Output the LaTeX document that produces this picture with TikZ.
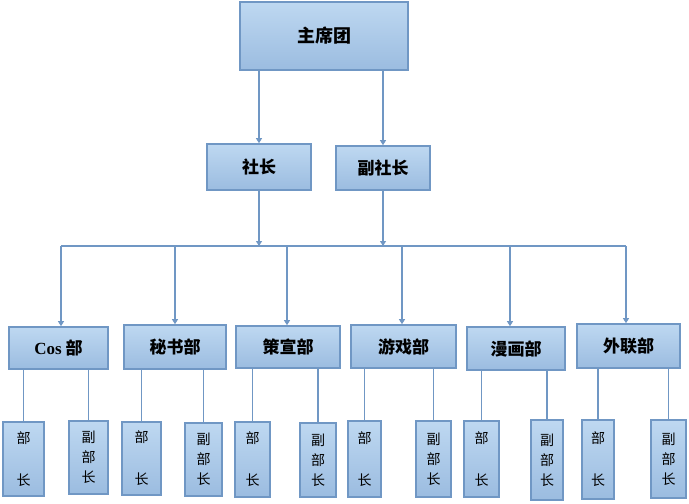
\documentclass[tikz,border=0pt]{standalone}
\usepackage{fontspec}
\setmainfont{Liberation Serif}
\newfontfamily\cjk{Noto Sans CJK SC}
\usetikzlibrary{arrows.meta}
\definecolor{boxtop}{HTML}{BED8F1}
\definecolor{boxbot}{HTML}{9BBCE0}
\definecolor{boxline}{HTML}{7097C4}
\tikzset{
  orgbox/.style={draw=boxline, line width=1.6pt, top color=boxtop, bottom color=boxbot,
    inner sep=0pt, align=center, font=\cjk\bfseries\fontsize{17}{19}\selectfont},
  subbox/.style={orgbox, font=\cjk\fontsize{14}{20}\selectfont},
  link/.style={draw=boxline, line width=1.1pt},
  arr/.style={link, -{Triangle[width=6pt,length=5pt]}},
}
\begin{document}
\begin{tikzpicture}[x=1pt,y=-1pt]
\useasboundingbox (0,0) rectangle (689,504);
% top levels
\node[orgbox, minimum width=168pt, minimum height=68pt, font=\cjk\bfseries\fontsize{18}{20}\selectfont] (zxt) at (324,36) {主席团};
\node[orgbox, minimum width=104pt, minimum height=46pt] (sz) at (259,167) {社长};
\node[orgbox, minimum width=94pt, minimum height=44pt] (fsz) at (383,168) {副社长};
% departments
\node[orgbox, minimum width=99pt, minimum height=42pt] (d1) at (58.5,348) {{\fontspec{Liberation Serif}Cos} 部};
\node[orgbox, minimum width=102pt, minimum height=44pt] (d2) at (175,347) {秘书部};
\node[orgbox, minimum width=104pt, minimum height=42pt] (d3) at (288,347) {策宣部};
\node[orgbox, minimum width=105pt, minimum height=43pt] (d4) at (403.5,346.5) {游戏部};
\node[orgbox, minimum width=98pt, minimum height=43pt] (d5) at (516,348.5) {漫画部};
\node[orgbox, minimum width=103pt, minimum height=44pt] (d6) at (628.5,346) {外联部};
% sub boxes
\newcommand{\bz}{部\\[22pt]长}
\newcommand{\fbz}{副\\部\\长}
\node[subbox, minimum width=41pt, minimum height=74pt] (a1) at (23.5,459) {\bz};
\node[subbox, minimum width=39pt, minimum height=73pt] (b1) at (88.5,457.5) {\fbz};
\node[subbox, minimum width=39pt, minimum height=73pt] (a2) at (141.5,458.5) {\bz};
\node[subbox, minimum width=37pt, minimum height=73pt] (b2) at (203.5,459.5) {\fbz};
\node[subbox, minimum width=35pt, minimum height=75pt] (a3) at (252.5,459.5) {\bz};
\node[subbox, minimum width=36pt, minimum height=74pt] (b3) at (318,460) {\fbz};
\node[subbox, minimum width=33pt, minimum height=76pt] (a4) at (364.5,459) {\bz};
\node[subbox, minimum width=35pt, minimum height=76pt] (b4) at (433.5,459) {\fbz};
\node[subbox, minimum width=35pt, minimum height=76pt] (a5) at (481.5,459) {\bz};
\node[subbox, minimum width=32pt, minimum height=80pt] (b5) at (547,460) {\fbz};
\node[subbox, minimum width=32pt, minimum height=79pt] (a6) at (598,459.5) {\bz};
\node[subbox, minimum width=35pt, minimum height=78pt] (b6) at (668.5,459) {\fbz};
% bus
\coordinate (busL) at (61,246);
\coordinate (busR) at (626,246);
\coordinate (p1) at (61,246);
\coordinate (p2) at (175,246);
\coordinate (p3) at (287,246);
\coordinate (p4) at (402,246);
\coordinate (p5) at (510,246);
\coordinate (p6) at (626,246);
\draw[link, line width=1.6pt] (busL) -- (busR);
% arrows top
\draw[arr] (zxt.south -| sz.north) -- (sz.north);
\draw[arr] (zxt.south -| fsz.north) -- (fsz.north);
\draw[arr] (sz.south) -- (sz.south |- busL);
\draw[arr] (fsz.south) -- (fsz.south |- busL);
\foreach \i in {1,...,6}{
  \draw[arr] (p\i) -- (p\i |- d\i.north);
}
% dept to sub
\foreach \i in {1,...,6}{
  \draw[link] (a\i.north |- d\i.south) -- (a\i.north);
  \draw[link] (b\i.north |- d\i.south) -- (b\i.north);
}
\end{tikzpicture}
\end{document}
